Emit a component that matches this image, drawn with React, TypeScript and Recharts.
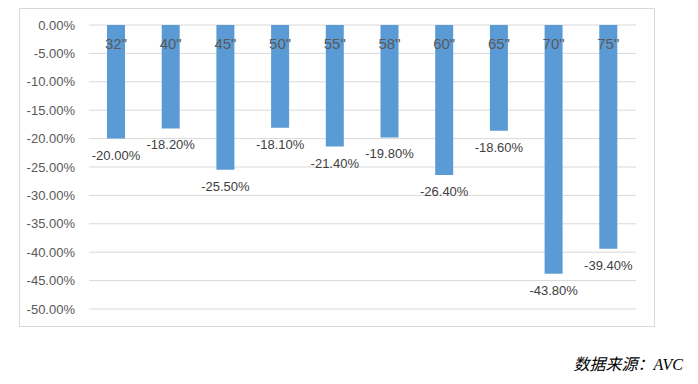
import { Bar, BarChart, CartesianGrid, LabelList, XAxis, YAxis } from 'recharts';

const sizes = ['32"', '40"', '45"', '50"', '55"', '58"', '60"', '65"', '70"', '75"'];
const changes = [-20.0, -18.2, -25.5, -18.1, -21.4, -19.8, -26.4, -18.6, -43.8, -39.4];
const yTicks = [0, -5, -10, -15, -20, -25, -30, -35, -40, -45, -50];

const data = sizes.map((name, i) => ({ name, value: changes[i] }));

const fmtPct = (v: number) => `${v.toFixed(2)}%`;

// size label drawn over the bar, just under the zero line
const SizeLabel = (props: any) => {
    const { x, y, width, height, value } = props;
    const top = Math.min(y, y + height);
    return (
        <text x={x + width / 2} y={top + 24} textAnchor="middle" fill="#595959" fontSize={15}>
            {value}
        </text>
    );
};

// value label under the end of the bar
const ValueLabel = (props: any) => {
    const { x, y, width, height, value } = props;
    const bottom = Math.max(y, y + height);
    return (
        <text x={x + width / 2} y={bottom + 21} textAnchor="middle" fill="#404040" fontSize={13}>
            {fmtPct(value)}
        </text>
    );
};

export default function App() {
    return (
        <div
            style={{
                position: 'absolute',
                left: 0,
                top: 0,
                width: 698,
                height: 384,
                background: '#fff',
                fontFamily: '"Liberation Sans", Arial, sans-serif',
            }}
        >
            <div
                style={{
                    position: 'absolute',
                    left: 19,
                    top: 8,
                    width: 634,
                    height: 317,
                    border: '1px solid #d9d9d9',
                }}
            />
            <div style={{ position: 'absolute', left: 0, top: 0 }}>
                <BarChart
                    width={698}
                    height={384}
                    data={data}
                    margin={{ top: 25, right: 62, bottom: 75, left: 0 }}
                    barSize={18}
                >
                    <CartesianGrid vertical={false} stroke="#d9d9d9" />
                    <XAxis dataKey="name" hide />
                    <YAxis
                        width={89}
                        domain={[-50, 0]}
                        ticks={yTicks}
                        tickFormatter={fmtPct}
                        axisLine={false}
                        tickLine={false}
                        tickSize={0}
                        tickMargin={14}
                        tick={{ fill: '#595959', fontSize: 13 }}
                    />
                    <Bar dataKey="value" fill="#5b9bd5" isAnimationActive={false}>
                        <LabelList dataKey="name" content={SizeLabel} />
                        <LabelList dataKey="value" content={ValueLabel} />
                    </Bar>
                </BarChart>
            </div>
            <div
                style={{
                    position: 'absolute',
                    right: 15,
                    top: 351,
                    fontSize: 16,
                    fontStyle: 'italic',
                    fontFamily: '"Liberation Serif", "Noto Sans CJK SC", serif',
                    color: '#000',
                }}
            >
                数据来源：AVC
            </div>
        </div>
    );
}
